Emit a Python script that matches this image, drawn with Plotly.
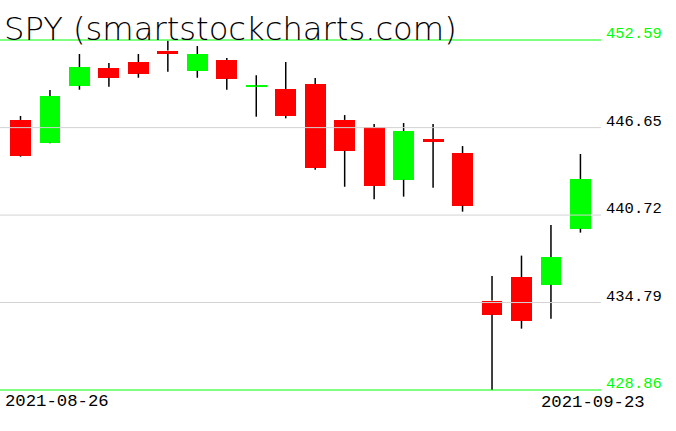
import plotly.graph_objects as go

dates = ["2021-08-26", "2021-08-27", "2021-08-30", "2021-08-31", "2021-09-01",
         "2021-09-02", "2021-09-03", "2021-09-07", "2021-09-08", "2021-09-09",
         "2021-09-10", "2021-09-13", "2021-09-14", "2021-09-15", "2021-09-16",
         "2021-09-17", "2021-09-20", "2021-09-21", "2021-09-22", "2021-09-23"]
opens = [447.17, 445.63, 449.49, 450.69, 451.10, 451.87, 450.51, 451.23, 449.42, 449.27,
         449.61, 447.17, 446.69, 443.12, 445.88, 444.93, 434.92, 436.52, 436.00, 439.80]
highs = [447.44, 449.20, 451.64, 451.03, 451.64, 452.54, 452.18, 451.37, 450.20, 451.10,
         450.01, 447.50, 446.89, 446.96, 446.89, 445.40, 436.59, 437.97, 440.05, 444.86]
lows = [444.68, 445.59, 449.22, 449.42, 450.03, 450.44, 450.03, 449.22, 447.39, 447.28,
        443.80, 442.64, 441.79, 441.97, 442.58, 440.95, 428.86, 433.02, 433.69, 439.53]
closes = [444.75, 448.79, 450.76, 450.03, 450.31, 451.66, 451.64, 449.97, 449.49, 447.46,
          443.93, 445.08, 442.71, 446.42, 445.69, 441.36, 433.97, 433.56, 437.88, 443.17]

title_text = "SPY (smartstockcharts.com)"
level_max = 452.59
level_min = 428.86
grid_levels = [446.65, 440.72, 434.79]
first_label = dates[0]
last_label = dates[-1]

UP = "#00ff00"
DOWN = "#ff0000"

# wicks (drawn as two segments so they stay behind the bodies)
wx, wy = [], []
for d, o, h, l, c in zip(dates, opens, highs, lows, closes):
    top, bot = max(o, c), min(o, c)
    wx += [d, d, None, d, d, None]
    wy += [h, top, None, bot, l, None]

fig = go.Figure()
fig.add_trace(go.Scatter(x=wx, y=wy, mode="lines",
                         line=dict(color="black", width=1.5), hoverinfo="skip"))
fig.add_trace(go.Bar(
    x=dates,
    base=[min(o, c) for o, c in zip(opens, closes)],
    y=[abs(c - o) for o, c in zip(opens, closes)],
    width=0.71,
    marker=dict(color=[UP if c >= o else DOWN for o, c in zip(opens, closes)],
                line=dict(width=0)),
))

px_per = (level_max - level_min) / 350.0
yr = [level_min - 10 * px_per, level_max + 10 * px_per]

shapes = []
for g in grid_levels:
    shapes.append(dict(type="line", xref="paper", x0=0, x1=1, yref="y", y0=g, y1=g,
                       line=dict(color="#d3d3d3", width=1), layer="above"))
for g in [level_max, level_min]:
    shapes.append(dict(type="line", xref="paper", x0=0, x1=1, yref="y", y0=g, y1=g,
                       line=dict(color=UP, width=1), layer="above"))

FONT = "Liberation Mono"
annotations = []
for g, col in [(level_max, UP), (grid_levels[0], "black"), (grid_levels[1], "black"),
               (grid_levels[2], "black"), (level_min, UP)]:
    annotations.append(dict(text=f"{g:.2f}", xref="paper", x=1 + 3 / 601, xanchor="left",
                            yref="y", y=g, yanchor="middle", yshift=6, showarrow=False,
                            font=dict(family=FONT, size=15.5, color=col)))
annotations.append(dict(text=first_label, xref="paper", x=3 / 601, xanchor="left",
                        yref="paper", y=0, yanchor="middle", yshift=-1, showarrow=False,
                        font=dict(family=FONT, size=17.3, color="black")))
annotations.append(dict(text=last_label, xref="paper", x=647 / 601, xanchor="right",
                        yref="paper", y=0, yanchor="middle", yshift=-2, showarrow=False,
                        font=dict(family=FONT, size=17.3, color="black")))
annotations.append(dict(text=title_text, xref="paper", x=2 / 601, xanchor="left",
                        yref="paper", y=(400 - 29.0) / 370, yanchor="middle", showarrow=False,
                        font=dict(family="DejaVu Sans", size=32.2, color="black", weight=200)))

fig.update_layout(
    width=676, height=431,
    margin=dict(l=0, r=75, t=30, b=31, pad=0),
    paper_bgcolor="white", plot_bgcolor="white",
    showlegend=False,
    xaxis=dict(type="category", range=[-20.5 / 29.47, (601 - 20.5) / 29.47],
               showgrid=False, zeroline=False, showticklabels=False, showline=False,
               fixedrange=True),
    yaxis=dict(range=yr, showgrid=False, zeroline=False, showticklabels=False,
               showline=False, fixedrange=True),
    shapes=shapes,
    annotations=annotations,
    bargap=0,
)

fig.write_html("out.html", config={"displayModeBar": False},
               post_script="document.body.style.margin='0';")
